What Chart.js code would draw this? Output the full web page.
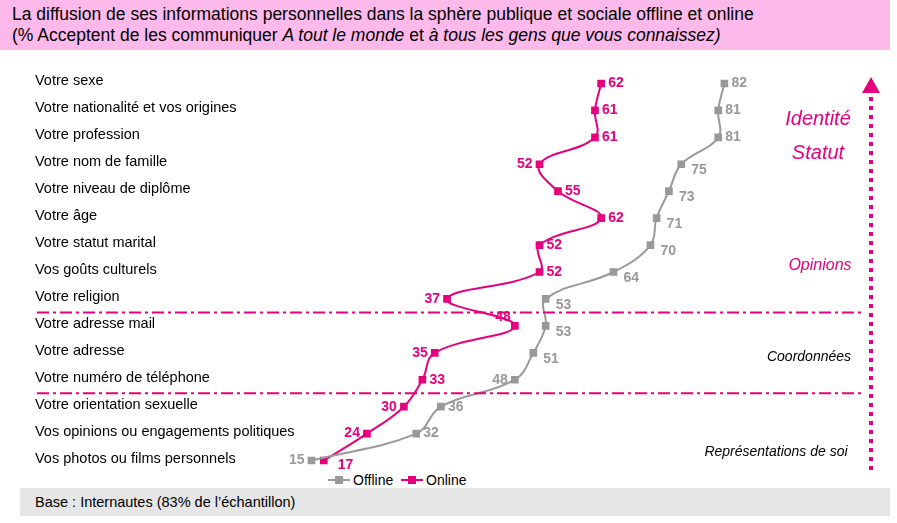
<!DOCTYPE html>
<html><head><meta charset="utf-8">
<script src="https://cdn.jsdelivr.net/npm/chart.js@4"></script>
<style>
body{margin:0;width:897px;height:523px;position:relative;font-family:"Liberation Sans",Arial,sans-serif;background:#fff;overflow:hidden}
#title{position:absolute;left:0;top:0;width:890px;height:50px;background:#fcb9ea;font-size:17.5px;line-height:21px;padding:4px 0 0 12px;box-sizing:border-box}
#foot{position:absolute;left:20px;top:488px;width:870px;height:28px;background:#e6e6e6;font-size:14.5px;line-height:28px;padding-left:15px;box-sizing:border-box}
#legend{position:absolute;left:328px;top:471px;font-size:14px}
#legend span{display:inline-block;vertical-align:middle}
.ln{width:22px;height:2px;position:relative;margin-right:3px}
.ln i{position:absolute;left:7px;top:-3px;width:8px;height:8px}
canvas{position:absolute;left:0;top:0}
</style></head><body>
<div id="title">La diffusion de ses informations personnelles dans la sphère publique et sociale offline et online<br>(% Acceptent de les communiquer <i>A tout le monde</i> et <i>à tous les gens que vous connaissez)</i></div>
<div id="foot">Base : Internautes (83% de l’échantillon)</div>
<div id="legend"><span class="ln" style="background:#999"><i style="background:#999"></i></span><span>Offline&nbsp;&nbsp;</span><span class="ln" style="background:#e6007e"><i style="background:#e6007e"></i></span><span>Online</span></div>
<canvas id="c" width="897" height="523"></canvas>
<script>
const categories=["Votre sexe","Votre nationalité et vos origines","Votre profession","Votre nom de famille","Votre niveau de diplôme","Votre âge","Votre statut marital","Vos goûts culturels","Votre religion","Votre adresse mail","Votre adresse","Votre numéro de téléphone","Votre orientation sexuelle","Vos opinions ou engagements politiques","Vos photos ou films personnels"];
const offline=[82,81,81,75,73,71,70,64,53,53,51,48,36,32,15];
const online=[62,61,61,52,55,62,52,52,37,48,35,33,30,24,17];
const offlinePos=['r','r','r','rb','rb','rb','rb','rb','rb','rb','rb','l','r','r','l'];
const onlinePos=['r','r','r','l','r','r','r','r','l','a','l','r','l','l','b'];
const PINK='#e6007e',GREY='#999999';
const deco={id:'deco',afterDatasetsDraw(ch){
 const c=ch.ctx,y=ch.scales.y;
 c.save();
 // category labels
 c.font='14.5px "Liberation Sans",Arial';c.fillStyle='#000';c.textAlign='left';c.textBaseline='middle';
 ch.data.labels.forEach((l,i)=>c.fillText(l,35,y.getPixelForValue(i)-2));
 // value labels
 c.font='bold 14px "Liberation Sans",Arial';
 [[0,offlinePos,GREY],[1,onlinePos,PINK]].forEach(([di,pos,col])=>{
  ch.getDatasetMeta(di).data.forEach((p,i)=>{
   const v=ch.data.datasets[di].data[i];c.fillStyle=col;
   let x=p.x,yy=p.y;const s=pos[i];
   if(s==='r'){c.textAlign='left';x+=7;}
   else if(s==='rb'){c.textAlign='left';x+=10;yy+=6;}
   else if(s==='l'){c.textAlign='right';x-=7;}
   else if(s==='a'){c.textAlign='right';x-=4;yy-=9;}
   else {c.textAlign='left';x+=14;yy+=5;}
   c.fillText(v,x,yy);
  });
 });
 c.strokeStyle=PINK;c.lineWidth=2;c.setLineDash([12,4,3,4]);
 [8.5,11.5].forEach(v=>{const yy=(y.getPixelForValue(Math.floor(v))+y.getPixelForValue(Math.ceil(v)))/2;
  c.beginPath();c.moveTo(37,yy);c.lineTo(862,yy);c.stroke();});
 c.lineWidth=4;c.setLineDash([4,5]);c.beginPath();c.moveTo(871,470);c.lineTo(871,92);c.stroke();
 c.setLineDash([]);c.fillStyle=PINK;c.beginPath();c.moveTo(871,77);c.lineTo(862,93);c.lineTo(880,93);c.closePath();c.fill();
 c.textAlign='center';c.textBaseline='middle';
 c.font='italic 20px "Liberation Sans",Arial';c.fillText('Identité',818,119);c.fillText('Statut',818,153);
 c.font='italic 16px "Liberation Sans",Arial';c.fillText('Opinions',820,266);
 c.fillStyle='#000';c.font='italic 14px "Liberation Sans",Arial';
 c.fillText('Coordonnées',809,357);c.fillText('Représentations de soi',776,452);
 c.restore();
}};
new Chart(document.getElementById('c'),{type:'line',
 data:{labels:categories,datasets:[
  {label:'Offline',data:offline,borderColor:GREY,backgroundColor:GREY,borderWidth:2,pointStyle:'rect',pointRadius:4,tension:0.4},
  {label:'Online',data:online,borderColor:PINK,backgroundColor:PINK,borderWidth:2,pointStyle:'rect',pointRadius:4,tension:0.4}]},
 options:{indexAxis:'y',responsive:false,animation:false,
  layout:{padding:{left:35,top:70,bottom:49,right:37}},
  plugins:{legend:{display:false},tooltip:{enabled:false}},
  scales:{
   x:{type:'linear',min:0,max:104,display:false},
   y:{type:'category',offset:true,grid:{display:false},border:{display:false},
      afterFit(s){s.width=184;},
      ticks:{color:'rgba(0,0,0,0)',padding:0,font:{size:14}}}}},
 plugins:[deco]});
</script></body></html>
